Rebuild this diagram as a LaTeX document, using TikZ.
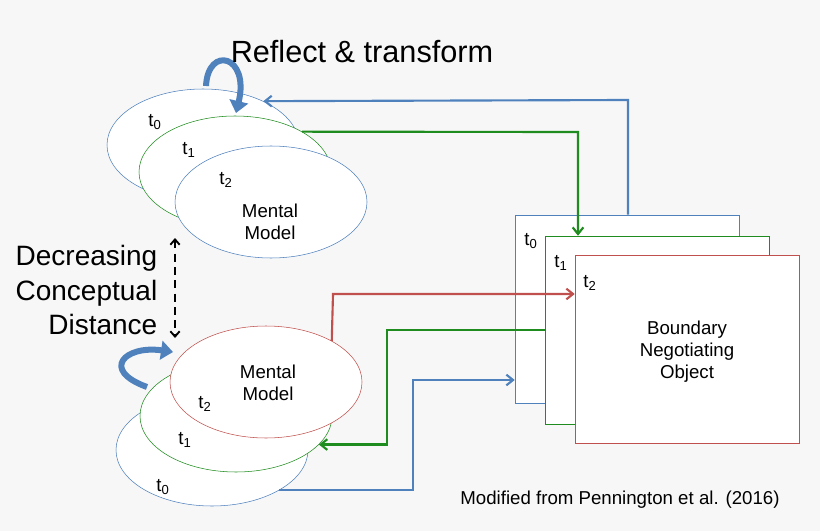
\documentclass[tikz,border=0pt]{standalone}
\usepackage{fontspec}
\setmainfont{Liberation Sans}
\usetikzlibrary{shapes.geometric,arrows.meta}
\definecolor{mblue}{HTML}{4F81BD}
\definecolor{mgreen}{HTML}{1E8C1E}
\definecolor{mred}{HTML}{C0504D}
\begin{document}
\begin{tikzpicture}[x=0.75pt,y=-0.75pt]
  \tikzset{model/.style={ellipse,draw=#1,fill=white,minimum width=144pt,minimum height=84pt,inner sep=0pt},
    sheet/.style={draw=#1,fill=white,minimum width=168pt,minimum height=141pt,inner sep=0pt},
    tlabel/.style={font=\fontsize{14}{16.5}\selectfont},
    link/.style={draw=#1,line width=1.6pt,-{Straight Barb[length=5pt,width=8pt]}},
    loop/.style={draw=mblue,line width=4.5pt,-{Triangle[length=9pt,width=14pt]}}}
  \fill[black!3] (0,0) rectangle (820,531);
  \useasboundingbox (0,0) rectangle (820,531);
  % top models
  \node [model=mblue] (e0) at (203,145) {};
  \node [model=mgreen] (e1) at (235,172) {};
  \node [model=mblue] (e2) at (271,202) {};
  \node [tlabel] (e0t) at (155,122) {t\textsubscript{0}};
  \node [tlabel] (e1t) at (189,150) {t\textsubscript{1}};
  \node [tlabel] (e2t) at (226,180) {t\textsubscript{2}};
  \node [tlabel,align=center] (e2m) at (270,222) {Mental\\Model};
  % bottom models
  \node [model=mblue] (f0) at (212,450) {};
  \node [model=mgreen] (f1) at (236,416) {};
  \node [model=mred] (f2) at (266,382) {};
  \node [tlabel] (f0t) at (163,487) {t\textsubscript{0}};
  \node [tlabel] (f1t) at (185,440) {t\textsubscript{1}};
  \node [tlabel] (f2t) at (205,404) {t\textsubscript{2}};
  \node [tlabel,align=center] (f2m) at (268,383) {Mental\\Model};
  % boundary object sheets
  \node [sheet=mblue] (r0) at (627,309) {};
  \node [sheet=mgreen] (r1) at (657,330) {};
  \node [sheet=mred] (r2) at (687,349) {};
  \node [tlabel] (r0t) at (531,241) {t\textsubscript{0}};
  \node [tlabel] (r1t) at (561,263) {t\textsubscript{1}};
  \node [tlabel] (r2t) at (590,283) {t\textsubscript{2}};
  \node [tlabel,align=center] (r2m) at (687,352) {Boundary\\Negotiating\\Object};
  % connectors
  \coordinate (ub) at (628,100);
  \coordinate (ug) at (578,132);
  \coordinate (lr) at (333,294);
  \coordinate (lg) at (387,330);
  \coordinate (lb) at (413,380);
  \path[link=mblue] (r0.north -| ub) -- (ub) -- (e0.36);
  \path[link=mgreen] (e1.31) -- (ug) -- (ug |- r1.north);
  \path[link=mred] (f2.32) -- (lr) -- (lr -| r2.west);
  \path[link=mgreen] (r1.west) -- (lg) |- (f1.-19);
  \path[link=mblue] (f0.-31) -| (lb) -- (lb -| r0.west);
  % loops and distance
  \coordinate (la) at (206,86);
  \coordinate (lc) at (147,387);
  \draw[loop] (la) .. controls (208,45) and (250,55) .. (236,113);
  \draw[loop] (lc) .. controls (100,370) and (125,345) .. (173,352);
  \coordinate (da) at (175,238);
  \coordinate (db) at (175,338);
  \draw[dash pattern=on 6pt off 4pt,line width=1.4pt,{Straight Barb[length=4pt,width=7pt]}-{Straight Barb[length=4pt,width=7pt]}] (da) -- (db);
  \node [font=\fontsize{23}{27}\selectfont] (rt) at (362,52) {Reflect \& transform};
  \node [font=\fontsize{21}{26}\selectfont,align=right,anchor=east] (cd) at (162,290) {Decreasing\\Conceptual\\Distance};
  \node [font=\fontsize{14}{16}\selectfont] (src) at (620,500) {Modified from Pennington et al. (2016)};
\end{tikzpicture}
\end{document}
